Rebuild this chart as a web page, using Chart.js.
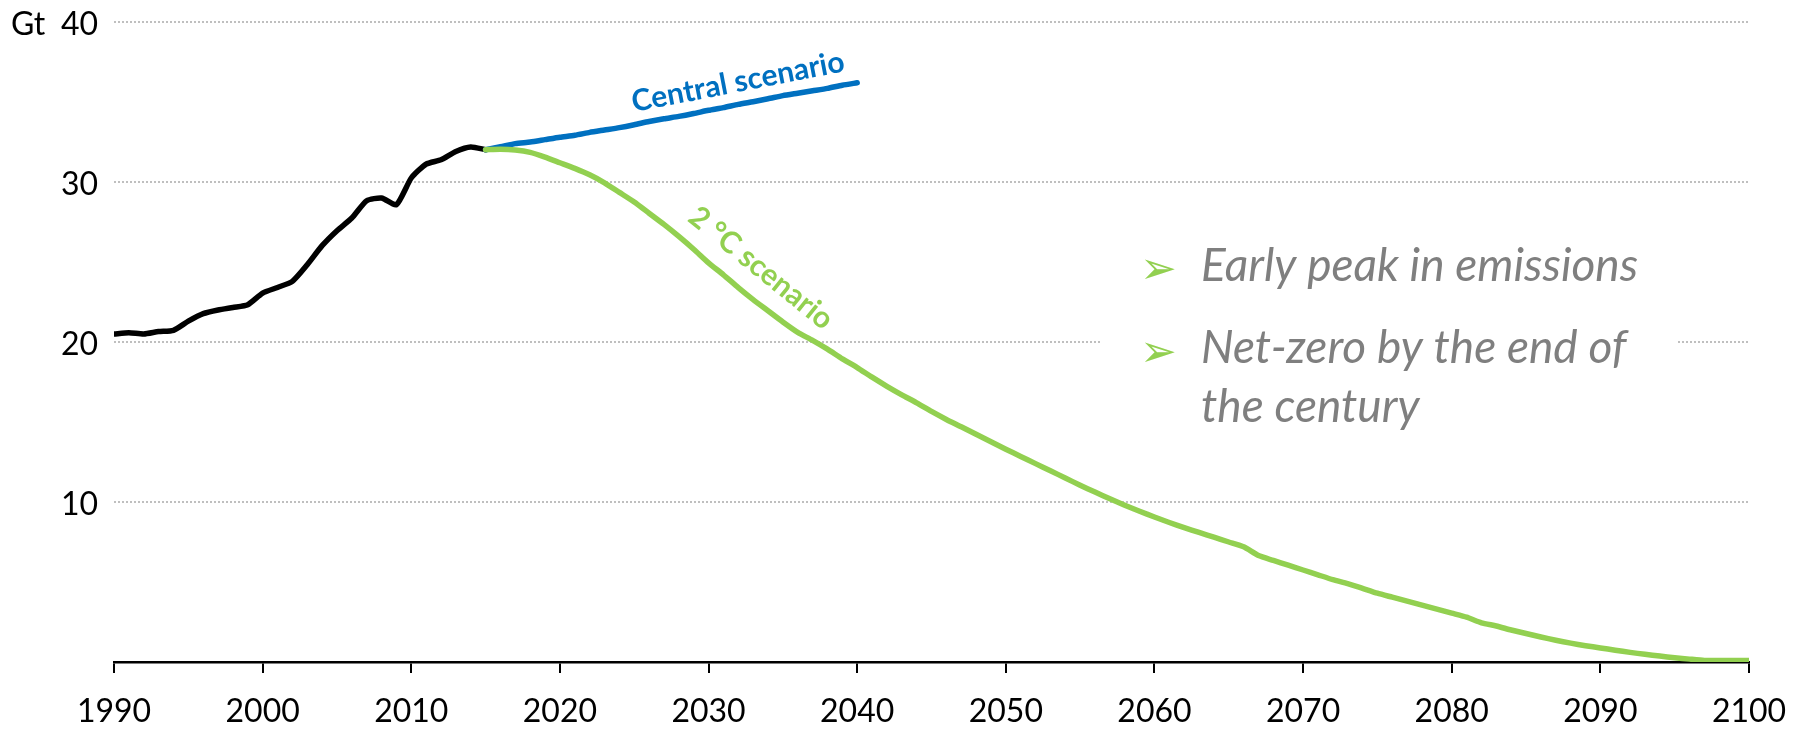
<!DOCTYPE html>
<html>
<head>
<meta charset="utf-8">
<script src="https://cdn.jsdelivr.net/npm/chart.js@4.4.1/dist/chart.umd.min.js"></script>
<style>
  html, body { margin: 0; padding: 0; background: #ffffff; }
  #wrap { width: 1804px; height: 731px; position: relative; }
</style>
</head>
<body>
<div id="wrap"><canvas id="c" width="1804" height="731"></canvas></div>
<script>
// ---- Data ----
const histYears = [1990,1991,1992,1993,1994,1995,1996,1997,1998,1999,2000,2001,2002,2003,2004,2005,2006,2007,2008,2009,2010,2011,2012,2013,2014,2015];
const histValues = [20.5,20.58,20.5,20.65,20.73,21.3,21.77,22.0,22.16,22.33,23.06,23.41,23.79,24.83,26.02,26.96,27.75,28.83,29.0,28.58,30.25,31.12,31.39,31.91,32.19,32.02];

const centralYears = [2015,2016,2017,2018,2019,2020,2021,2022,2023,2024,2025,2026,2027,2028,2029,2030,2031,2032,2033,2034,2035,2036,2037,2038,2039,2040];
const centralValues = [32.02,32.2,32.4,32.5,32.65,32.8,32.92,33.1,33.25,33.4,33.58,33.78,33.95,34.1,34.28,34.48,34.65,34.85,35.02,35.2,35.4,35.55,35.7,35.85,36.05,36.2];

const twoDegYears = [2015,2016,2017,2018,2019,2020,2021,2022,2023,2024,2025,2026,2027,2028,2029,2030,2031,2032,2033,2034,2035,2036,2037,2038,2039,2040,2041,2042,2043,2044,2045,2046,2047,2048,2049,2050,2051,2052,2053,2054,2055,2056,2057,2058,2059,2060,2061,2062,2063,2064,2065,2066,2067,2068,2069,2070,2071,2072,2073,2074,2075,2076,2077,2078,2079,2080,2081,2082,2083,2084,2085,2086,2087,2088,2089,2090,2091,2092,2093,2094,2095,2096,2097,2098,2099,2100];
const twoDegValues = [32.02,32.05,32.0,31.85,31.55,31.2,30.85,30.45,29.95,29.35,28.75,28.05,27.35,26.6,25.8,24.95,24.2,23.4,22.65,21.95,21.25,20.6,20.1,19.55,18.95,18.4,17.8,17.23,16.7,16.2,15.66,15.16,14.7,14.23,13.77,13.3,12.85,12.4,11.95,11.5,11.05,10.62,10.2,9.8,9.42,9.06,8.72,8.4,8.1,7.8,7.5,7.2,6.65,6.35,6.05,5.75,5.45,5.15,4.9,4.6,4.3,4.05,3.8,3.55,3.3,3.05,2.8,2.45,2.25,2.0,1.78,1.56,1.36,1.18,1.02,0.88,0.74,0.6,0.48,0.37,0.27,0.18,0.1,0.1,0.1,0.1];

const yTicks = [10,20,30,40];
const xTickYears = [1990,2000,2010,2020,2030,2040,2050,2060,2070,2080,2090,2100];

const seriesLabels = ['Central scenario', '2 °C scenario'];
const noteLines = ['Early peak in emissions', 'Net-zero by the end of', 'the century'];
const unitLabel = 'Gt';

// ---- Build ----
const toPts = (xs, ys) => xs.map((x, i) => ({x: x, y: ys[i]}));

const FONT = 'Lato, "Open Sans", sans-serif';

const annotate = {
  id: 'annotate',
  afterDraw(chart) {
    const ctx = chart.ctx;
    const ys = chart.scales.y;
    ctx.save();
    // unit label
    ctx.font = '32px ' + FONT;
    ctx.fillStyle = '#000';
    ctx.textAlign = 'left';
    ctx.textBaseline = 'middle';
    ctx.fillText(unitLabel, 11, ys.getPixelForValue(40) + 3);

    // Central scenario label
    ctx.save();
    ctx.translate(738, 82);
    ctx.rotate(-11 * Math.PI / 180);
    ctx.font = 'bold 30px ' + FONT;
    ctx.fillStyle = '#0070c0';
    ctx.textAlign = 'center';
    ctx.textBaseline = 'middle';
    ctx.fillText(seriesLabels[0], 0, 0);
    ctx.restore();

    // 2 °C label
    ctx.save();
    ctx.translate(761, 268);
    ctx.rotate(39 * Math.PI / 180);
    ctx.font = 'bold 30px ' + FONT;
    ctx.fillStyle = '#92d050';
    ctx.textAlign = 'center';
    ctx.textBaseline = 'middle';
    ctx.fillText(seriesLabels[1], 0, 0);
    ctx.restore();

    // note box
    ctx.fillStyle = '#ffffff';
    ctx.fillRect(1100, 222, 577, 226);
    ctx.font = 'italic 46px ' + FONT;
    ctx.fillStyle = '#7f7f7f';
    ctx.textAlign = 'left';
    ctx.textBaseline = 'alphabetic';
    ctx.fillText(noteLines[0], 1201, 281);
    ctx.fillText(noteLines[1], 1201, 363);
    ctx.fillText(noteLines[2], 1201, 422);
    ctx.font = '44px "DejaVu Sans"';
    ctx.fillStyle = '#92d050';
    ctx.fillText('\u27A2', 1140, 283);
    ctx.fillText('\u27A2', 1140, 366);
    ctx.restore();
  }
};

new Chart(document.getElementById('c'), {
  type: 'line',
  data: {
    datasets: [
      { label: seriesLabels[1], data: toPts(twoDegYears, twoDegValues), borderColor: '#92d050', borderWidth: 5.5 },
      { label: seriesLabels[0], data: toPts(centralYears, centralValues), borderColor: '#0070c0', borderWidth: 5.5 },
      { label: 'Historical', data: toPts(histYears, histValues), borderColor: '#000000', borderWidth: 5.5 }
    ]
  },
  options: {
    responsive: false,
    animation: false,
    devicePixelRatio: 1,
    layout: { padding: { left: 0, right: 55, top: 22, bottom: 0 } },
    elements: {
      point: { radius: 0 },
      line: { tension: 0.2, borderCapStyle: 'round', borderJoinStyle: 'round', fill: false }
    },
    plugins: { legend: { display: false }, tooltip: { enabled: false } },
    scales: {
      x: {
        type: 'linear',
        min: 1990, max: 2100,
        afterFit(s) { s.height = 69; s.paddingLeft = 0; s.paddingRight = 0; },
        afterBuildTicks(s) { s.ticks = xTickYears.map(v => ({value: v})); },
        ticks: {
          callback: v => String(v),
          color: '#000',
          font: { family: FONT, size: 32 },
          padding: 19,
          maxRotation: 0,
          autoSkip: false
        },
        grid: { drawOnChartArea: false, drawTicks: true, tickLength: 11, color: '#000', lineWidth: 2 },
        border: { display: true, color: '#000', width: 2.5 }
      },
      y: {
        min: 0, max: 40,
        afterFit(s) { s.width = 114; s.paddingTop = 0; s.paddingBottom = 0; },
        afterBuildTicks(s) { s.ticks = [0].concat(yTicks).map(v => ({value: v})); },
        ticks: {
          callback: v => (v === 0 ? '' : String(v)),
          color: '#000',
          font: { family: FONT, size: 32 },
          padding: 16,
          labelOffset: 3
        },
        grid: {
          drawTicks: false,
          color: ctx => (ctx.tick && ctx.tick.value === 0 ? 'rgba(0,0,0,0)' : '#bfbfbf'),
          lineWidth: 2
        },
        border: { display: false, dash: [2, 2] }
      }
    }
  },
  plugins: [annotate]
});
</script>
</body>
</html>
